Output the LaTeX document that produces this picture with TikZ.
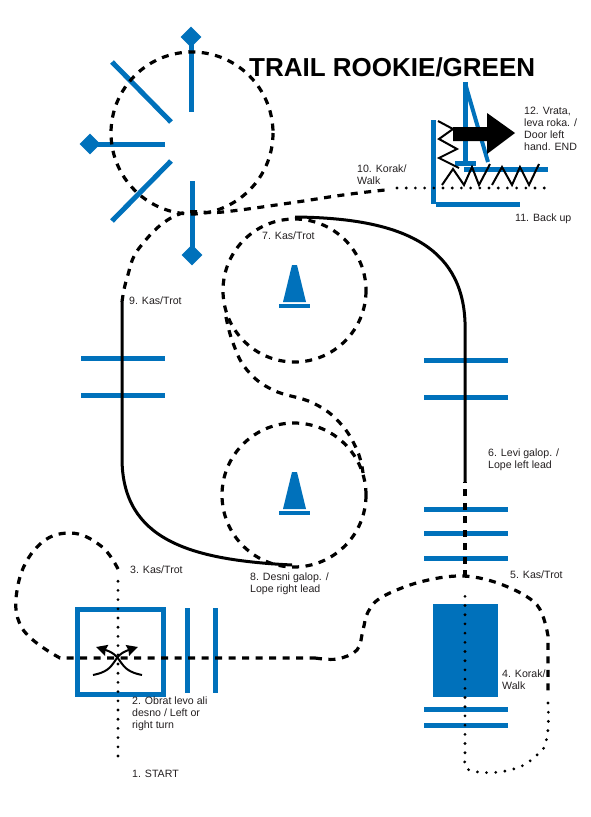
\documentclass[tikz,border=0pt]{standalone}
\usepackage{fontspec}
\setmainfont{Liberation Sans}
\usepackage{xcolor}
\usepackage{tikz}
\usetikzlibrary{arrows.meta, positioning, shapes.geometric}
\definecolor{trailblue}{HTML}{0071BB}
\definecolor{labelgray}{HTML}{231F20}

\begin{document}
\begin{tikzpicture}[x=1pt, y=-1pt, >=Stealth,
  pole/.style={draw=trailblue, line width=5pt},
  marker/.style={diamond, fill=trailblue, minimum size=21pt, inner sep=0pt},
  walk/.style={line width=3.1pt, line cap=round, dash pattern=on 0pt off 9.2pt},
  trot/.style={line width=3.2pt, dash pattern=on 7pt off 6.5pt},
  lope/.style={line width=3pt},
  zig/.style={line width=2pt},
  turn/.style={line width=2pt, -{Stealth[length=11pt, width=11pt, inset=1pt]}},
  lbl/.style={anchor=west, align=left, inner sep=0pt, font=\fontsize{10.6}{12}\selectfont, text=labelgray}
]
  \useasboundingbox (0,0) rectangle (590,817);

  % obstacles
  \node[marker] (mtop) at (191,37) {};
  \node[marker] (mleft) at (90,144) {};
  \node[marker] (mbot) at (192,255) {};
  \draw[pole] (mtop.center) -- (191,112);
  \draw[pole] (mleft.center) -- (165,144);
  \draw[pole] (mbot.center) -- (192,181);
  \draw[pole] (112,62) -- (171,122);
  \draw[pole] (171,161) -- (112,221);

  \foreach \ya in {358,395} \draw[pole] (81,\ya) -- (165,\ya);
  \foreach \ya in {360,397,509,533,558,709,725} \draw[pole] (424,\ya) -- (508,\ya);
  \foreach \xa in {187,215} \draw[pole] (\xa,608) -- (\xa,693);

  \draw[pole] (77,609) rectangle (163,694);
  \fill[trailblue] (433,604) rectangle (498,697);

  \foreach \ya in {0,207} {
    \fill[trailblue] (292,265+\ya) -- (297,265+\ya) -- (306,302+\ya) -- (283,302+\ya) -- cycle;
    \fill[trailblue] (279,304+\ya) rectangle (310,308+\ya);
  }

  % back up and gate
  \draw[pole] (433,120) -- (433,204);
  \draw[pole] (436,204) -- (520,204);
  \draw[pole] (465,82) -- (465,163);
  \draw[pole, line width=4pt] (465,83) -- (488,162);
  \draw[pole] (455,163) -- (476,163);
  \draw[pole] (464,169) -- (548,169);
  \draw[zig] (438,121) -- (453,129) -- (439,139) -- (457,149) -- (439,158) -- (459,168);
  \draw[zig] (442,185) -- (453,169) -- (464,185) -- (472,167) -- (479,185) -- (490,164);
  \draw[zig] (492,185) -- (502,167) -- (512,185) -- (520,167) -- (529,185) -- (539,164);
  \fill (453,127) -- (487,127) -- (487,113) -- (515,133) -- (487,154) -- (487,141) -- (453,141) -- cycle;

  % route
  \draw[walk] (118,756) -- (118,575);
  \draw[trot] plot[smooth, tension=0.7] coordinates {(118,569) (101,546) (70,533) (38,546) (18,585) (22,628) (60,658)} -- (315,658);
  \draw[trot] plot[smooth, tension=0.6] coordinates {(315,658) (337,659) (357,650) (363,630) (368,612) (382,597) (420,582) (463,576) (503,585) (537,605) (548,636)} -- (548,693);
  \draw[walk] plot[smooth, tension=0.8] coordinates {(548,703) (547,737) (537,755) (510,770) (472,771) (465,760)} -- (465,590);
  \draw[trot] (465,577) -- (465,482);
  \draw[lope] (465,482) -- (465,322) .. controls (462,245) and (400,218) .. (295,217);
  \draw[trot] (294.5,290.5) circle (71.5);
  \draw[trot] plot[smooth, tension=0.7] coordinates {(226,317) (233,343) (247,370) (273,390) (313,403) (340,423) (357,450) (363,473)};
  \draw[trot] (294,495) circle (72);
  \draw[lope] (292,565) .. controls (190,560) and (122,540) .. (122,458) -- (122,302);
  \draw[trot] plot[smooth, tension=0.7] coordinates {(122,302) (127,278) (140,247) (177,215) (223,212) (290,203) (343,195) (385,190)};
  \draw[trot] (192,133) circle (81);
  \draw[walk] (397,188) -- (545,188);

  % turn
  \draw[turn] (93,675) .. controls (119,670) and (110,656) .. (138,647);
  \draw[turn] (142,675) .. controls (116,670) and (125,656) .. (96,647);

  % labels
  \node[font=\fontsize{26}{30}\selectfont\bfseries, anchor=west, inner sep=0pt] (title) at (249,67) {TRAIL ROOKIE/GREEN};
  \node[lbl] (l1) at (132,774) {1. START};
  \node[lbl] (l2) at (132,714) {2. Obrat levo ali\\desno / Left or\\right turn};
  \node[lbl] (l3) at (130,570) {3. Kas/Trot};
  \node[lbl] (l4) at (502,680) {4. Korak/\\Walk};
  \node[lbl] (l5) at (510,575) {5. Kas/Trot};
  \node[lbl] (l6) at (488,460) {6. Levi galop. /\\Lope left lead};
  \node[lbl] (l7) at (262,236) {7. Kas/Trot};
  \node[lbl] (l8) at (250,584) {8. Desni galop. /\\Lope right lead};
  \node[lbl] (l9) at (129,301) {9. Kas/Trot};
  \node[lbl] (l10) at (357,175) {10. Korak/\\Walk};
  \node[lbl] (l11) at (515,219) {11. Back up};
  \node[lbl] (l12) at (524,129) {12. Vrata,\\leva roka. /\\Door left\\hand. END};
\end{tikzpicture}
\end{document}
